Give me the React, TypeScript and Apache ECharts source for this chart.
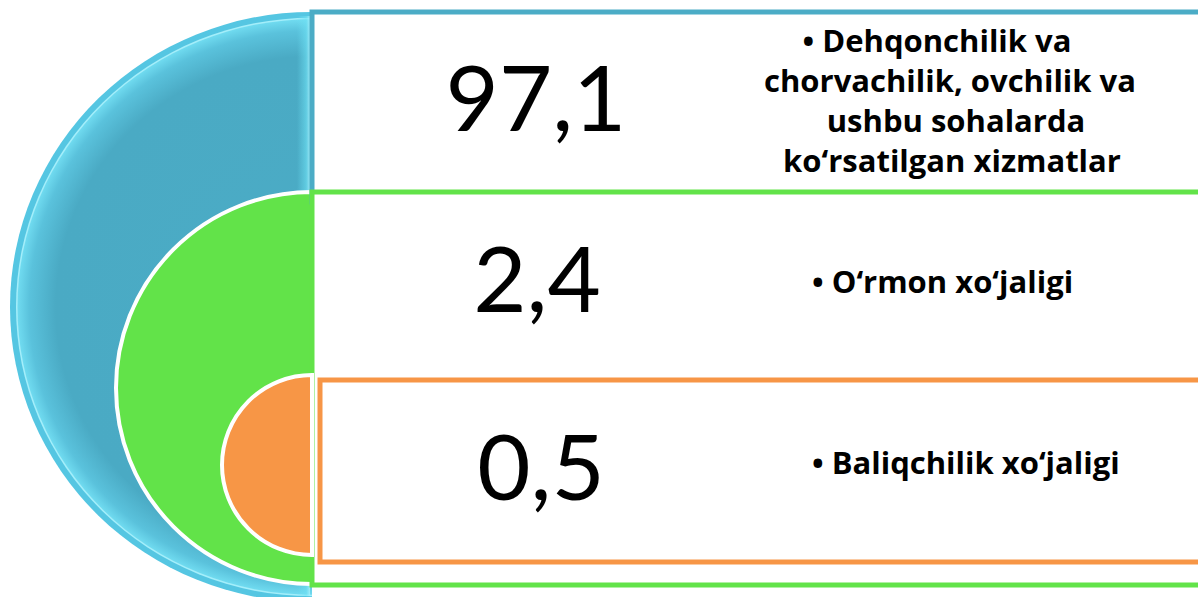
import React, { useEffect, useRef } from "react";
import * as echarts from "echarts";

// ---- data ----
const shareValues: number[] = [97.1, 2.4, 0.5];
const categoryLabels: string[][] = [
  ["• Dehqonchilik va", "chorvachilik, ovchilik va", "ushbu sohalarda", "ko‘rsatilgan xizmatlar"],
  ["• O‘rmon xo‘jaligi"],
  ["• Baliqchilik xo‘jaligi"],
];
const segmentColors: string[] = ["#4BACC6", "#62E349", "#F79646"];

const fmt = (v: number) => v.toFixed(1).replace(".", ",");

export default function App() {
  const ref = useRef<HTMLDivElement>(null);
  useEffect(() => {
    if (!ref.current) return;
    const chart = echarts.init(ref.current, undefined, { renderer: "svg" });
    const half = { startAngle: Math.PI / 2, endAngle: Math.PI * 1.5, clockwise: true };
    const lblFont = 'bold 31px "Open Sans", Lato, sans-serif';
    const numFont = '92px Lato, "Open Sans", sans-serif';

    const graphic: any[] = [
      // blue half-ellipse (bevelled)
      {
        type: "group",
        x: 312,
        y: 307,
        scaleY: 295 / 302,
        children: [
          { type: "sector", shape: { cx: 0, cy: 0, r: 302, r0: 0, ...half }, style: { fill: "#55C6E2" } },
          { type: "sector", shape: { cx: 0, cy: 0, r: 296, r0: 0, ...half }, style: { fill: "#A4EEFA" } },
          {
            type: "sector",
            shape: { cx: 0, cy: 0, r: 294.5, r0: 0, ...half },
            style: {
              fill: {
                type: "radial",
                x: 0,
                y: 0,
                r: 294.5,
                global: true,
                colorStops: [
                  { offset: 0, color: segmentColors[0] },
                  { offset: 0.87, color: "#4AAAC4" },
                  { offset: 0.96, color: "#5AC2DC" },
                  { offset: 1, color: "#70DBF0" },
                ],
              },
            },
          },
        ],
      },
      {
        type: "rect",
        shape: { x: 297, y: 16, width: 13, height: 580 },
        style: {
          fill: {
            type: "linear",
            x: 0,
            y: 0,
            x2: 1,
            y2: 0,
            colorStops: [
              { offset: 0, color: "rgba(110,225,244,0)" },
              { offset: 0.7, color: "rgba(110,225,244,0.6)" },
              { offset: 1, color: "rgba(170,240,252,0.85)" },
            ],
          },
        },
      },
      // green half-disc
      {
        type: "sector",
        shape: { cx: 312, cy: 388, r: 196, r0: 0, ...half },
        style: { fill: segmentColors[1], stroke: "#FFFFFF", lineWidth: 4 },
      },
      // boxes
      {
        type: "rect",
        shape: { x: 312, y: 12, width: 900, height: 190 },
        style: { fill: "#FFFFFF", stroke: segmentColors[0], lineWidth: 5 },
      },
      {
        type: "rect",
        shape: { x: 312, y: 192, width: 900, height: 393 },
        style: { fill: "#FFFFFF", stroke: segmentColors[1], lineWidth: 5 },
      },
      {
        type: "rect",
        shape: { x: 320, y: 380, width: 900, height: 182 },
        style: { fill: "#FFFFFF", stroke: segmentColors[2], lineWidth: 5 },
      },
      // orange half-disc
      {
        type: "sector",
        shape: { cx: 312, cy: 465, r: 90, r0: 0, ...half },
        style: { fill: segmentColors[2], stroke: "#FFFFFF", lineWidth: 4 },
      },
    ];

    const numPos = [
      [536, 95],
      [537, 276],
      [541, 464],
    ];
    shareValues.forEach((v, i) => {
      graphic.push({
        type: "text",
        x: numPos[i][0],
        y: numPos[i][1],
        style: { text: fmt(v), font: numFont, fill: "#000000", align: "center", verticalAlign: "middle" },
      });
    });

    // label 1: centred lines
    const line1X = [937, 950, 956, 952];
    const line1Y = [40, 80, 120, 160];
    categoryLabels[0].forEach((t, j) => {
      graphic.push({
        type: "text",
        x: line1X[j],
        y: line1Y[j],
        style: { text: t, font: lblFont, fill: "#000000", align: "center", verticalAlign: "middle" },
      });
    });
    const lblPos = [
      [0, 0],
      [812, 281],
      [812, 462],
    ];
    [1, 2].forEach((i) => {
      graphic.push({
        type: "text",
        x: lblPos[i][0],
        y: lblPos[i][1],
        style: {
          text: categoryLabels[i].join("\n"),
          font: lblFont,
          fill: "#000000",
          align: "left",
          verticalAlign: "middle",
        },
      });
    });

    chart.setOption({ animation: false, graphic });
    return () => chart.dispose();
  }, []);
  return (
    <div
      ref={ref}
      style={{ position: "fixed", left: 0, top: 0, width: 1198, height: 597, background: "#FFFFFF" }}
    />
  );
}
